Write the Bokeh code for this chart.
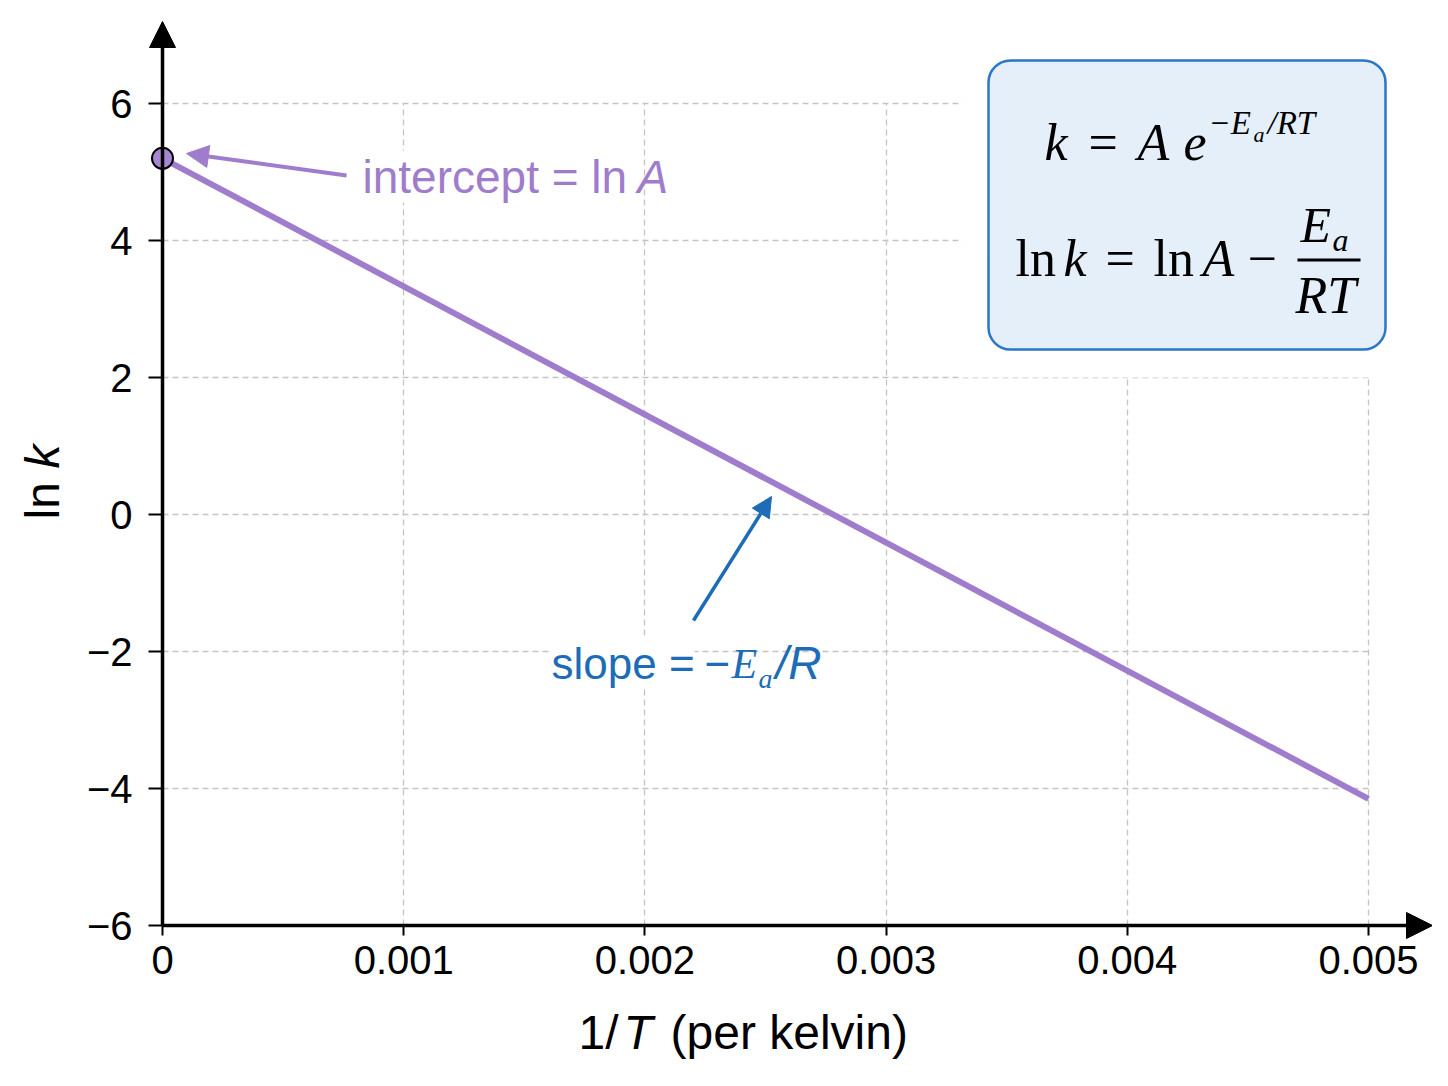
from math import pi
from bokeh.plotting import figure
from bokeh.models import (Range1d, FixedTicker, CustomJSTickFormatter, Label, Arrow,
                          NormalHead, BoxAnnotation)
from bokeh.embed import file_html
from bokeh.resources import INLINE

# data
inv_T = [0.0, 0.005]
ln_k = [5.2, -4.15]
x_ticks = [0, 0.001, 0.002, 0.003, 0.004, 0.005]
y_ticks = [-6, -4, -2, 0, 2, 4, 6]

PURPLE = "#a07ccc"
BLUE = "#1c6cb8"
SANS = "Liberation Sans"
SERIF = "Liberation Serif"


# reference pixel -> data, only used to place the annotations
def px_x(px):
    return (px - 162) / 241.2 * 0.001


def px_y(py):
    return -6 + (925 - py) / 68.5


# the frame fills the whole figure, axes are drawn at x = 0 and y = -6
p = figure(width=1432, height=1070, output_backend="svg", toolbar_location=None,
           x_range=Range1d(px_x(0), px_x(1432)), y_range=Range1d(px_y(1070), px_y(0)),
           min_border=0)
p.outline_line_color = None
p.background_fill_color = "white"

fmt = CustomJSTickFormatter(code="return tick < 0 ? '\u2212' + Math.abs(tick) : String(tick)")

p.xaxis.ticker = FixedTicker(ticks=x_ticks)
p.yaxis.ticker = FixedTicker(ticks=y_ticks)
p.xaxis.fixed_location = y_ticks[0]
p.yaxis.fixed_location = x_ticks[0]
for ax in (p.xaxis, p.yaxis):
    ax.formatter = fmt
    ax.axis_line_color = None
    ax.minor_tick_line_color = None
    ax.major_tick_line_width = 2
    ax.major_tick_in = 0
    ax.major_label_text_font = SANS
    ax.major_label_text_font_size = "40px"
    ax.major_label_text_color = "black"
p.xaxis.major_tick_out = 10
p.xaxis.major_label_standoff = 10
p.yaxis.major_tick_out = 14
p.yaxis.major_label_standoff = 16

for g in (p.xgrid, p.ygrid):
    g.grid_line_color = "#c4c4c4"
    g.grid_line_dash = "6 4"
    g.grid_line_width = 1.3
p.xgrid.cross_bounds = (y_ticks[0], y_ticks[-1])
p.ygrid.cross_bounds = (x_ticks[0], x_ticks[-1])

p.line(inv_T, ln_k, line_color=PURPLE, line_width=6)
p.scatter(inv_T[:1], ln_k[:1], size=21, fill_color="#a887d2",
          line_color="black", line_width=2)

# white area round the formula box
p.add_layout(BoxAnnotation(left=px_x(962), right=px_x(1432), bottom=px_y(377), top=px_y(0),
                           fill_color="white", fill_alpha=1, line_color=None))
p.add_layout(BoxAnnotation(left=px_x(988), right=px_x(1385), bottom=px_y(349), top=px_y(60),
                           fill_color="#e4eff9", fill_alpha=1, line_color="#2a76c8",
                           line_alpha=1, line_width=2.5, border_radius=22))

# axis lines with arrow heads
p.add_layout(Arrow(end=NormalHead(size=26, fill_color="black", line_color="black"),
                   x_start=0, y_start=-6, x_end=px_x(1432), y_end=-6,
                   line_width=3.5, line_color="black"))
p.add_layout(Arrow(end=NormalHead(size=26, fill_color="black", line_color="black"),
                   x_start=0, y_start=-6, x_end=0, y_end=px_y(21),
                   line_width=3.5, line_color="black"))


def lab(px, py, text, font=SANS, size=44, color="black", style="normal", angle=0, bg=None):
    # (px, py) is the baseline start in reference pixels; bokeh draws the
    # glyphs about a third of an em lower, so pull the anchor back by that much
    shift = 0.34 * size
    if angle:
        px -= shift
    else:
        py -= shift
    p.add_layout(Label(x=px_x(px), y=px_y(py), text=text, text_font=font,
                       text_font_size=f"{size}px", text_color=color, text_font_style=style,
                       text_align="left", text_baseline="alphabetic", angle=angle,
                       background_fill_color=bg))


# annotation arrows
p.add_layout(Arrow(end=NormalHead(size=22, fill_color=PURPLE, line_color=PURPLE),
                   x_start=px_x(346), y_start=px_y(175), x_end=px_x(186), y_end=px_y(153),
                   line_color=PURPLE, line_width=4))
p.add_layout(Arrow(end=NormalHead(size=20, fill_color=BLUE, line_color=BLUE),
                   x_start=px_x(693), y_start=px_y(620), x_end=px_x(771), y_end=px_y(496),
                   line_color=BLUE, line_width=3.5))

lab(362, 192, "intercept = ln", size=46, color=PURPLE, bg="white")
lab(637, 192, "A", size=46, color=PURPLE, style="italic")

lab(551, 678, "slope =", color=BLUE, bg="white")
lab(704, 678, "\u2212", color=BLUE)
lab(731, 678, "E", font=SERIF, size=42, color=BLUE, style="italic")
lab(758, 688, "a", font=SERIF, size=28, color=BLUE, style="italic")
lab(775, 678, "/R", size=46, color=BLUE, style="italic")

# axis titles
lab(58, 519, "ln", size=48, angle=pi / 2)
lab(58, 468, "k", size=48, style="italic", angle=pi / 2)
lab(578, 1048, "1/", size=48)
lab(623, 1048, "T", size=48, style="italic")
lab(670, 1048, "(per kelvin)", size=48)

# formulas
lab(1044, 160, "k", font=SERIF, size=52, style="italic")
lab(1088, 160, "=", font=SERIF, size=52)
lab(1137, 160, "A", font=SERIF, size=52, style="italic")
lab(1183, 160, "e", font=SERIF, size=52, style="italic")
lab(1208, 134, "\u2212E", font=SERIF, size=33, style="italic")
lab(1253, 141, "a", font=SERIF, size=22, style="italic")
lab(1267, 134, "/RT", font=SERIF, size=33, style="italic")

lab(1015, 276, "ln", font=SERIF, size=52)
lab(1063, 276, "k", font=SERIF, size=52, style="italic")
lab(1105, 276, "=", font=SERIF, size=52)
lab(1153, 276, "ln", font=SERIF, size=52)
lab(1202, 276, "A", font=SERIF, size=52, style="italic")
lab(1247, 276, "\u2212", font=SERIF, size=52)
lab(1300, 241, "E", font=SERIF, size=50, style="italic")
lab(1332, 250, "a", font=SERIF, size=32, style="italic")
lab(1295, 313, "RT", font=SERIF, size=52, style="italic")
p.add_layout(BoxAnnotation(left=px_x(1297), right=px_x(1360), bottom=px_y(261), top=px_y(258),
                           fill_color="black", fill_alpha=1, line_color=None))

open("out.html", "w").write(file_html(p, INLINE))
